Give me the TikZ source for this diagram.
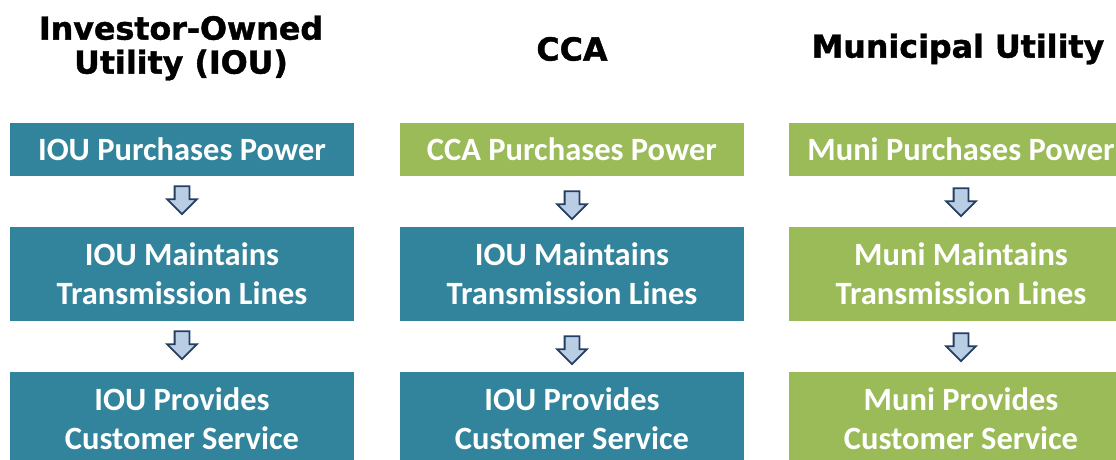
\documentclass[tikz,border=0pt]{standalone}
\usepackage{fontspec}
\setmainfont{Carlito}
\newfontfamily\headfont{DejaVu Sans}[BoldFeatures={FakeBold=1.3}]
\usetikzlibrary{shapes.arrows,calc}
\definecolor{tealbox}{HTML}{31849B}
\definecolor{greenbox}{HTML}{9BBB59}
\definecolor{arrowfill}{HTML}{B9CDE5}
\definecolor{arrowline}{HTML}{243F60}
\tikzset{
  heading/.style={align=center, inner sep=0pt,
    font=\headfont\bfseries\fontsize{31.7}{34}\selectfont},
  stagebox/.style={rectangle, draw=none, minimum width=344pt, inner sep=0pt,
    align=center, text=white,
    font=\bfseries\fontsize{32.5}{39}\selectfont},
  oneline/.style={stagebox, minimum height=53pt},
  twoline/.style={stagebox, minimum height=94pt},
  iou/.style={fill=tealbox},
  local/.style={fill=greenbox},
  downarrow/.style={shape=single arrow, rotate=-90, draw=arrowline,
    fill=arrowfill, line width=1.8pt, inner sep=6.5pt,
    minimum height=28pt, single arrow head extend=7.5pt,
    single arrow tip angle=90, single arrow head indent=0pt}
}
\begin{document}
\begin{tikzpicture}[x=1pt,y=-1pt]
  \useasboundingbox (0,0) rectangle (1116,459);
  \clip (0,0) rectangle (1116,459);

  % column headings
  \node[heading] (h1) at (181,48) {Investor-Owned\\Utility (IOU)};
  \node[heading] (h2) at (572,49) {CCA};
  \node[heading] (h3) at (958,49) {Municipal Utility};

  % investor-owned utility column
  \node[oneline, iou] (a1) at (182,149.5) {IOU Purchases Power};
  \node[twoline, iou] (a2) at (182,274) {IOU Maintains\\Transmission Lines};
  \node[twoline, iou] (a3) at (182,419) {IOU Provides\\Customer Service};

  % community choice aggregation column
  \node[oneline, local] (b1) at (572,149.5) {CCA Purchases Power};
  \node[twoline, iou] (b2) at (572,274) {IOU Maintains\\Transmission Lines};
  \node[twoline, iou] (b3) at (572,419) {IOU Provides\\Customer Service};

  % municipal utility column
  \node[oneline, local] (c1) at (961,149.5) {Muni Purchases Power};
  \node[twoline, local] (c2) at (961,274) {Muni Maintains\\Transmission Lines};
  \node[twoline, local] (c3) at (961,419) {Muni Provides\\Customer Service};

  % block arrows between stages
  \foreach \col/\dx in {a/-5, b/0, c/-3} {
    \node[downarrow, xshift=\dx pt] (\col12) at ($(\col1.south)!0.5!(\col2.north)$) {};
    \node[downarrow, xshift=\dx pt] (\col23) at ($(\col2.south)!0.5!(\col3.north)$) {};
  }
\end{tikzpicture}
\end{document}
